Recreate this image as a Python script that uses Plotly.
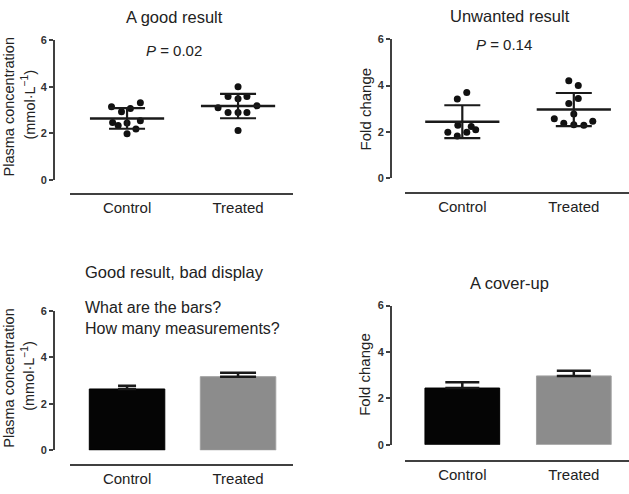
import numpy as np
import plotly.graph_objects as go

# ---------------- data ----------------
categories = ["Control", "Treated"]
y_tick_values = [0, 2, 4, 6]

# Plasma concentration (mmol/L) – "A good result" / "Good result, bad display"
conc_control = [3.14, 2.93, 3.07, 3.31, 2.47, 2.34, 2.44, 2.54, 1.98, 2.19]
conc_treated = [4.00, 3.58, 3.49, 3.58, 3.10, 3.18, 2.89, 2.89, 2.89, 2.12]
# horizontal scatter offsets of the dots (category units)
conc_control_jitter = [-0.14, -0.05, 0.03, 0.12, -0.13, -0.08, 0.0, 0.12, 0.0, 0.08]
conc_treated_jitter = [0.0, -0.09, 0.0, 0.08, -0.18, 0.17, -0.09, 0.0, 0.08, 0.0]

# Fold change – "Unwanted result" / "A cover-up"
fold_control = [3.42, 3.70, 2.29, 2.24, 2.10, 1.99, 1.99, 1.83]
fold_treated = [4.21, 4.00, 3.44, 3.23, 2.78, 2.57, 2.38, 2.31, 2.29, 2.46]
fold_control_jitter = [-0.045, 0.04, -0.04, 0.08, 0.12, 0.04, -0.13, -0.045]
fold_treated_jitter = [-0.045, 0.04, 0.04, -0.045, 0.0, -0.175, -0.09, 0.0, 0.09, 0.17]

p_values = ["0.02", "0.14"]
titles = ["A good result", "Unwanted result", "Good result, bad display", "A cover-up"]

# ---------------- layout helpers ----------------
W, H = 629, 494
FONT = "Liberation Sans, Arial, sans-serif"
TXT = "#222222"
AX = "#404040"


def px(x):
    return x / W


def py(y):
    return 1 - y / H


# panel geometry in pixels: x-domain, y of category line, y of value 0 and 6, x of value axis
panels = [
    dict(xd=(70, 293), xl=193, y0=178.3, y6=35.0, ya=54),
    dict(xd=(405, 629), xl=192, y0=176.7, y6=34.0, ya=391),
    dict(xd=(70, 293), xl=470, y0=455.3, y6=312.7, ya=54),
    dict(xd=(405, 629), xl=466, y0=449.7, y6=307.0, ya=391),
]

fig = go.Figure()


def stats(v):
    a = np.asarray(v, dtype=float)
    sd = a.std(ddof=1)
    return a.mean(), sd, sd / np.sqrt(len(a))


def add_dots(idx, groups, jitters):
    xa = "x" if idx == 1 else f"x{idx}"
    ya = "y" if idx == 1 else f"y{idx}"
    for ci, (vals, jit) in enumerate(zip(groups, jitters)):
        fig.add_trace(go.Scatter(
            x=[ci + j for j in jit], y=vals, mode="markers",
            marker=dict(size=7, color="#111111"),
            xaxis=xa, yaxis=ya, showlegend=False, hoverinfo="skip"))
    means, sds = [], []
    for vals in groups:
        m, sd, _ = stats(vals)
        means.append(m)
        sds.append(sd)
    fig.add_trace(go.Scatter(
        x=list(range(len(groups))), y=means, mode="markers",
        marker=dict(symbol="line-ew", size=53, line=dict(width=2.5, color="#1a1a1a")),
        error_y=dict(type="data", array=sds, visible=True, width=18,
                     thickness=2.2, color="#1a1a1a"),
        xaxis=xa, yaxis=ya, showlegend=False, hoverinfo="skip"))


def add_bars(idx, groups, bar_width, cap_widths):
    xa = "x" if idx == 1 else f"x{idx}"
    ya = "y" if idx == 1 else f"y{idx}"
    colors = ["#050505", "#8c8c8c"]
    for ci, vals in enumerate(groups):
        m, _, sem = stats(vals)
        fig.add_trace(go.Bar(
            x=[ci], y=[m], width=bar_width,
            marker=dict(color=colors[ci], line=dict(width=1, color=["#000000", "#a0a0a0"][ci])),
            error_y=dict(type="data", symmetric=False, array=[sem], arrayminus=[0],
                         visible=True, width=cap_widths[ci], thickness=2.5, color="#1a1a1a"),
            xaxis=xa, yaxis=ya, showlegend=False, hoverinfo="skip"))


add_dots(1, [conc_control, conc_treated], [conc_control_jitter, conc_treated_jitter])
add_dots(2, [fold_control, fold_treated], [fold_control_jitter, fold_treated_jitter])
add_bars(3, [conc_control, conc_treated], 0.68, [9, 18])
add_bars(4, [fold_control, fold_treated], 0.67, [17, 17])

layout_axes = {}
for i, p in enumerate(panels, start=1):
    xk = "xaxis" if i == 1 else f"xaxis{i}"
    yk = "yaxis" if i == 1 else f"yaxis{i}"
    layout_axes[xk] = dict(
        domain=[px(p["xd"][0]), px(p["xd"][1])], anchor="free", position=py(p["xl"]),
        range=[-0.514, 1.495], tickvals=[0, 1], ticktext=categories,
        showline=True, linewidth=2, linecolor=AX, ticks="", showgrid=False,
        zeroline=False, tickfont=dict(family=FONT, size=15, color=TXT), fixedrange=True)
    layout_axes[yk] = dict(
        domain=[py(p["y0"]), py(p["y6"])], anchor="free", position=px(p["ya"]),
        range=[0, 6], tickvals=y_tick_values, showline=True, linewidth=2, linecolor=AX,
        ticks="outside", ticklen=4, tickwidth=1.5, tickcolor=AX, showgrid=False,
        zeroline=False, tickfont=dict(family=FONT, size=11, color="#333333", weight="bold"),
        fixedrange=True)

ann = []


def text(x, y, s, size, **kw):
    d = dict(x=px(x), y=py(y), xref="paper", yref="paper", text=s, showarrow=False,
             font=dict(family=FONT, size=size, color=TXT), xanchor="center", yanchor="middle")
    d.update(kw)
    ann.append(d)


text(174.5, 11, titles[0], 16.5)
text(510, 10, titles[1], 16.5)
text(175, 273, titles[2], 16.5)
text(509.7, 284, titles[3], 16.5)
text(173.5, 46, f"<i>P</i> = {p_values[0]}", 15)
text(504, 39, f"<i>P</i> = {p_values[1]}", 15)
text(83, 320, "What are the bars?<br>How many measurements?", 16, xanchor="left", align="left")

# value-axis titles
text(9, 104, "Plasma concentration", 14.5, textangle=-90)
text(28, 101, "(mmol·L<sup>−1</sup>)", 14.5, textangle=-90)
text(365, 106, "Fold change", 15, textangle=-90)
text(9, 382, "Plasma concentration", 14.5, textangle=-90)
text(28, 379, "(mmol·L<sup>−1</sup>)", 14.5, textangle=-90)
text(365, 378, "Fold change", 15, textangle=-90)

fig.update_layout(
    width=W, height=H, margin=dict(l=0, r=0, t=0, b=0),
    paper_bgcolor="white", plot_bgcolor="white", showlegend=False,
    barmode="overlay", annotations=ann, font=dict(family=FONT, color=TXT),
    **layout_axes)

fig.write_html(
    "out.html", config={"displayModeBar": False},
    post_script="document.body.style.margin='0px';document.body.style.overflow='hidden';")
